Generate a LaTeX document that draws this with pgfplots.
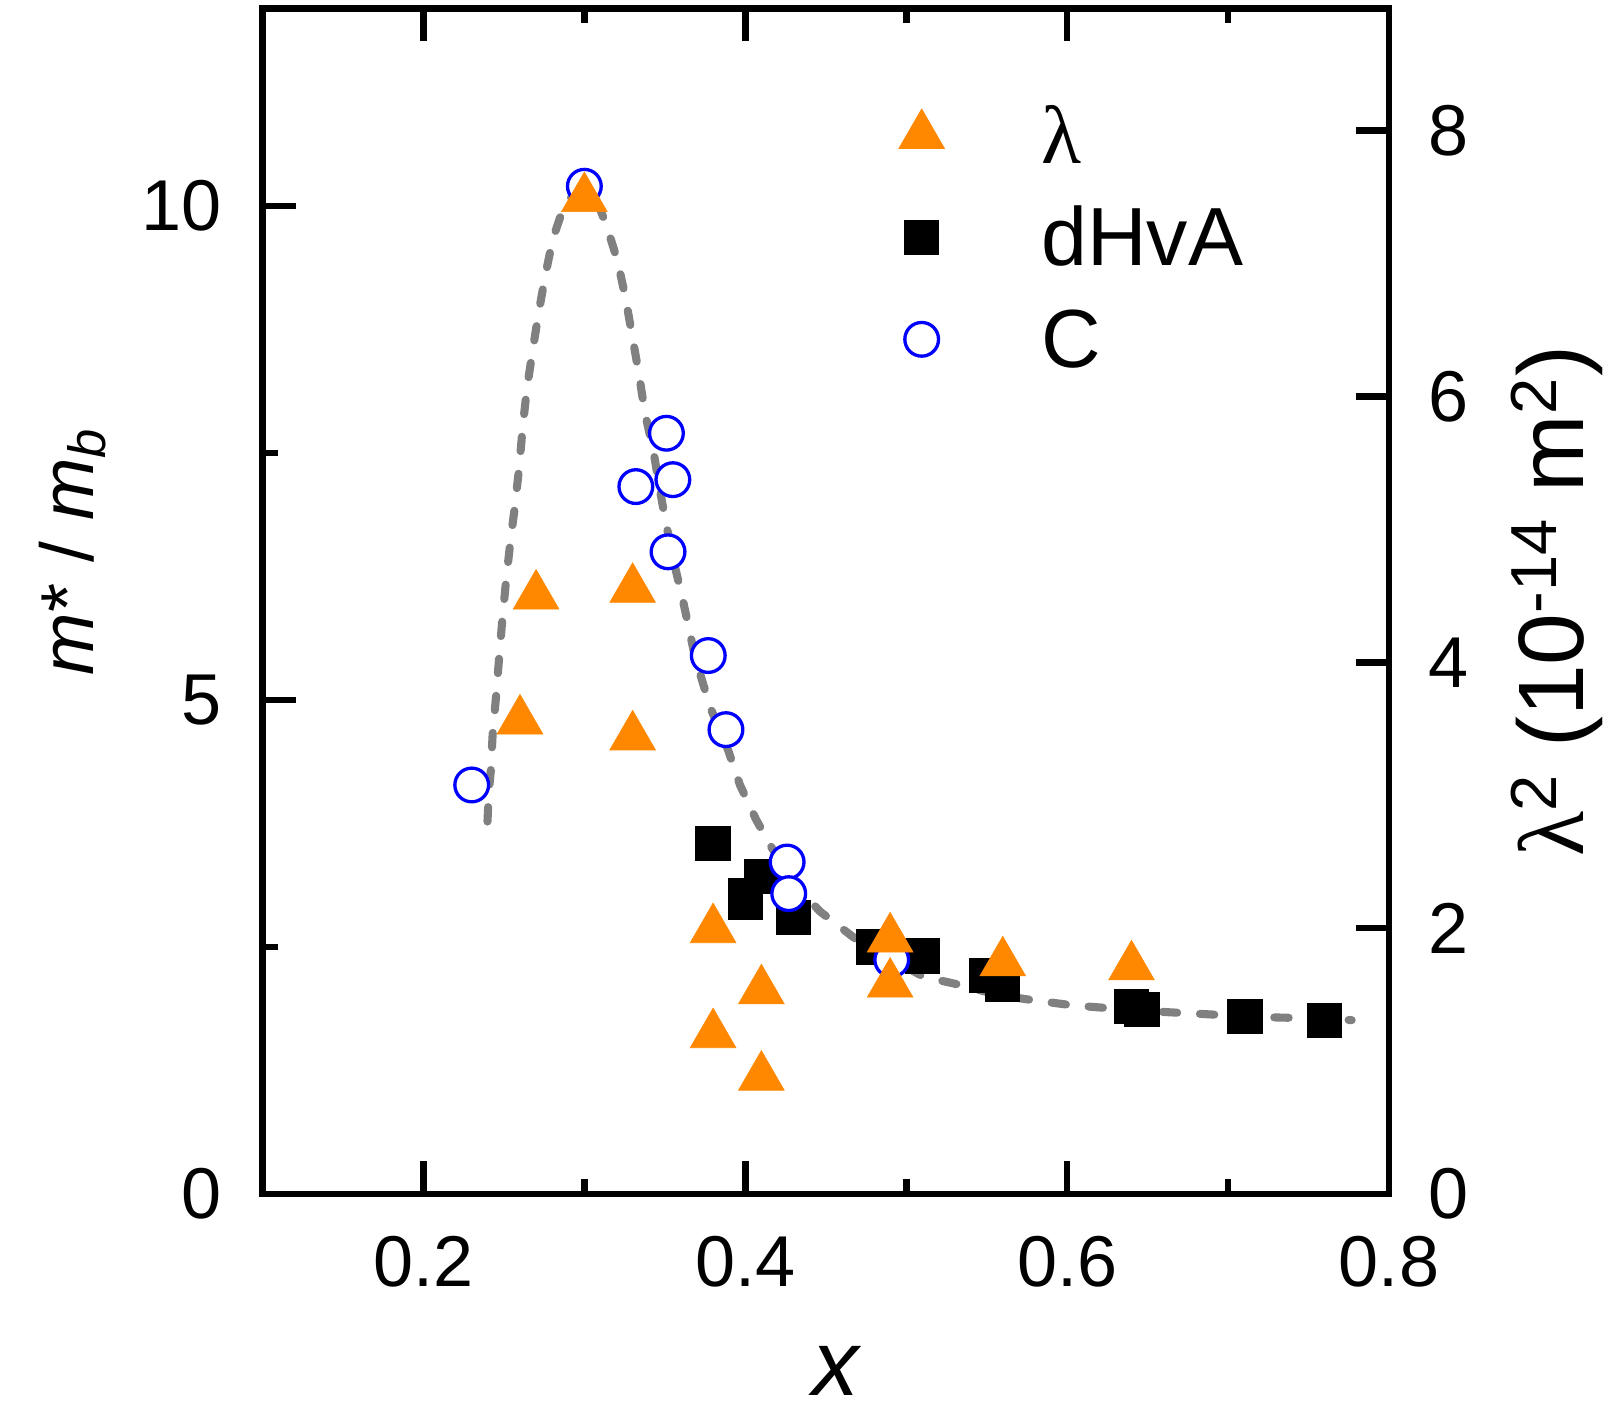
\documentclass[border=0pt]{standalone}
\usepackage{fontspec}
\setmainfont{Liberation Sans}
\newfontfamily\greekfont{Liberation Serif}
\usepackage{pgfplots}
\pgfplotsset{compat=1.18}
\definecolor{lamc}{RGB}{255,136,0}
\definecolor{fitc}{RGB}{128,128,128}
\definecolor{cblue}{RGB}{0,0,255}

\pgfplotsset{
  common/.style={
    scale only axis, width=375.5pt, height=395.2pt,
    at={(0,0)}, anchor=south west,
    xmin=0.1, xmax=0.8,
    axis line style={line width=2.2pt},
    tick align=inside,
    major tick length=11pt, minor tick length=5pt,
    every tick/.style={black, line width=2.2pt},
    tick label style={font=\fontsize{24}{28}\selectfont, inner sep=0pt},
    /pgf/number format/assume math mode=true,
    clip=false,
  }
}

\begin{document}
\begin{tikzpicture}
\begin{axis}[common,
  ymin=0, ymax=12,
  xtick={0.2,0.4,0.6,0.8}, minor xtick={0.3,0.5,0.7},
  ytick={0,5,10}, minor ytick={2.5,7.5},
  xtick pos=both, xticklabel pos=bottom,
  ytick pos=left,
  xticklabel style={yshift=-14pt},
  yticklabel style={xshift=-13.5pt},
  every axis x label/.style={at={(axis description cs:0.51,0)}, anchor=base, yshift=-67pt, font=\fontsize{31}{36}\selectfont},
  every axis y label/.style={at={([xshift=-56.4pt]axis description cs:0,0.542)}, anchor=base, rotate=90, font=\fontsize{25}{30}\selectfont},
  xlabel={\textit{x}},
  ylabel={\textit{m}* / \textit{m}\textsubscript{\textit{b}}},
]
\addplot[fitc, line width=2.7pt, dash pattern=on 4.8pt off 7.6pt, line cap=round] coordinates {
(0.2398,3.77) (0.2407,4.09) (0.2418,4.27) (0.2430,4.65) (0.2451,5.03) (0.2470,5.42) (0.2490,5.81) (0.2513,6.20) (0.2540,6.60) (0.2569,6.97) (0.2594,7.34) (0.2617,7.76) (0.2642,8.14) (0.2677,8.52) (0.2714,8.90) (0.2755,9.28) (0.2803,9.66) (0.2869,9.98) (0.2942,10.14) (0.3004,10.17) (0.3066,10.10) (0.3114,9.90) (0.3142,9.78) (0.3207,9.44) (0.3257,9.06) (0.3298,8.68) (0.3340,8.29) (0.3377,7.90) (0.3428,7.53) (0.3470,7.12) (0.3507,6.79) (0.3563,6.35) (0.3615,5.99) (0.3687,5.44) (0.3781,4.93) (0.3894,4.49) (0.3967,4.14) (0.4067,3.79) (0.4166,3.50) (0.4309,3.13) (0.4464,2.86) (0.4671,2.60) (0.4899,2.39) (0.5106,2.20) (0.5324,2.12) (0.5583,2.01) (0.5796,1.96) (0.6032,1.91) (0.6266,1.88) (0.6515,1.85) (0.6743,1.83) (0.6981,1.81) (0.7219,1.79) (0.7478,1.78) (0.7768,1.76)
};
\addplot[only marks, mark=square*, mark size=5.67pt, mark options={draw=none, fill=black}] coordinates {
(0.380,3.55) (0.410,3.21) (0.400,3.02) (0.400,2.95) (0.430,2.80) (0.480,2.50) (0.510,2.41) (0.550,2.21) (0.560,2.12) (0.640,1.90) (0.6465,1.87) (0.7105,1.80) (0.760,1.76)
};
\addplot[only marks, mark=*, mark size=5.62pt, mark options={draw=cblue, fill=white, line width=1.1pt}] coordinates {
(0.230,4.14) (0.300,10.20) (0.332,7.16) (0.351,7.70) (0.355,7.23) (0.352,6.50) (0.377,5.45) (0.388,4.70) (0.426,3.36) (0.427,3.04) (0.491,2.37)
};
\end{axis}

\begin{axis}[common,
  ymin=0, ymax=8.92,
  hide x axis,
  ytick={0,2,4,6,8},
  ytick pos=right, yticklabel pos=right,
  yticklabel style={xshift=13pt},
  every axis y label/.style={at={([xshift=64.7pt]axis description cs:1,0.5)}, anchor=base, rotate=90, font=\fontsize{31}{36}\selectfont},
  ylabel={{\greekfont λ}\textsuperscript{2} (10\textsuperscript{-14} m\textsuperscript{2})},
  legend cell align=left,
  legend style={draw=none, fill=none, inner sep=0pt, outer sep=0pt,
    at={(rel axis cs:0.558,0.925)}, anchor=north west,
    row sep=8.66pt, column sep=29.7pt,
    font=\fontsize{27.5}{32}\selectfont,
    cells={anchor=west},
    nodes={text height=22pt, text depth=3.34pt, inner sep=0pt}},
  legend image code/.code={\path (-10pt,0pt) (10pt,0pt); \draw[#1] plot coordinates {(0pt,0pt)};},
]
\addplot[lamc, only marks, mark=triangle*, mark size=8.8pt, mark options={draw=lamc, fill=lamc, line width=0.2pt}] coordinates {
(0.260,3.56) (0.270,4.50) (0.300,7.49) (0.330,4.55) (0.330,3.44) (0.380,1.99) (0.380,1.20) (0.410,1.53) (0.410,0.88) (0.490,1.92) (0.490,1.58) (0.560,1.74) (0.640,1.71)
};
\addlegendentry{{\greekfont λ}}
\addlegendimage{black, only marks, mark=square*, mark size=5.67pt, mark options={draw=none, fill=black}}
\addlegendentry{dHvA}
\addlegendimage{cblue, only marks, mark=*, mark size=5.62pt, mark options={draw=cblue, fill=white, line width=1.1pt}}
\addlegendentry{C}
\end{axis}
\pgfresetboundingbox
\path (-87.5pt,-76pt) rectangle (449.5pt,398pt);
\end{tikzpicture}
\end{document}
